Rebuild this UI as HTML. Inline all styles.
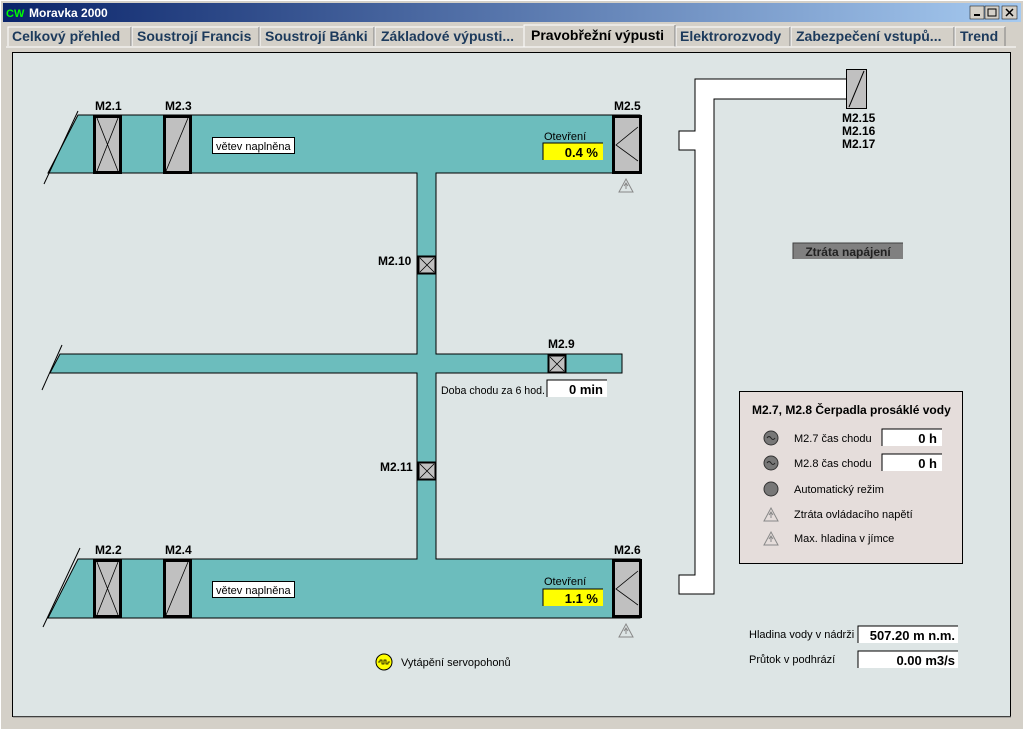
<!DOCTYPE html>
<html><head><meta charset="utf-8"><style>
html,body{margin:0;padding:0;background:#d4d0c8;}
svg{display:block;font-family:"Liberation Sans",sans-serif;}
.b{font-weight:bold;font-size:12px;fill:#000;}
.t{font-size:11px;fill:#000;}
.tab{font-weight:bold;font-size:14px;fill:#1c3a5c;}
</style></head><body>
<svg width="1024" height="730" viewBox="0 0 1024 730" xmlns="http://www.w3.org/2000/svg">
<defs>
<linearGradient id="tg" x1="0" x2="1"><stop offset="0" stop-color="#0a246a"/><stop offset="1" stop-color="#a6caf0"/></linearGradient>
<g id="warn"><path d="M0,-7 L7,6 L-7,6 Z" fill="none" stroke="#888" stroke-width="1"/><line x1="0" y1="-2" x2="0" y2="3" stroke="#888"/><path d="M-2,0 L0,-3 L2,0" fill="none" stroke="#888"/></g>
<g id="pump"><circle r="7" fill="#777" stroke="#333"/><path d="M-4,0 q2,-3 4,0 t4,0" fill="none" stroke="#222"/></g>
</defs>
<rect x="0" y="0" width="1024" height="730" fill="#d4d0c8"/>
<rect x="0.5" y="0.5" width="1023" height="729" fill="none" stroke="#fff"/>
<rect x="3" y="3" width="1018" height="19" fill="url(#tg)"/>
<text x="6" y="17" font-size="11" font-weight="bold" fill="#0f0">CW</text>
<text x="29" y="17" font-size="12" font-weight="bold" fill="#fff">Moravka 2000</text>
<g fill="#d4d0c8" stroke="#000" stroke-width="0.5">
<rect x="970" y="6" width="14" height="13"/><rect x="985" y="6" width="14" height="13"/><rect x="1002" y="6" width="15" height="13"/></g>
<line x1="974" y1="15" x2="980" y2="15" stroke="#000" stroke-width="2"/>
<rect x="988" y="9" width="8" height="7" fill="none" stroke="#000"/>
<path d="M1006,9 L1013,16 M1013,9 L1006,16" stroke="#000" stroke-width="1.5"/>
<g fill="#d4d0c8" stroke="#fff">
<path d="M8,46 V27 H131"/><path d="M132,46 V27 H259"/><path d="M260,46 V27 H374"/><path d="M375,46 V27 H523"/><path d="M676,46 V27 H790"/><path d="M791,46 V27 H954"/><path d="M955,46 V27 H1005"/></g>
<g stroke="#808080"><line x1="131" y1="27" x2="131" y2="46"/><line x1="259" y1="27" x2="259" y2="46"/><line x1="374" y1="27" x2="374" y2="46"/><line x1="790" y1="27" x2="790" y2="46"/><line x1="954" y1="27" x2="954" y2="46"/><line x1="1005" y1="27" x2="1005" y2="46"/></g>
<path d="M524,47 V25 H675 V47" fill="#d4d0c8" stroke="#fff"/>
<line x1="675" y1="25" x2="675" y2="47" stroke="#808080"/>
<text class="tab" x="12" y="41">Celkový přehled</text>
<text class="tab" x="137" y="41">Soustrojí Francis</text>
<text class="tab" x="265" y="41">Soustrojí Bánki</text>
<text class="tab" x="381" y="41">Základové výpusti...</text>
<text class="tab" x="531" y="40" style="fill:#000">Pravobřežní výpusti</text>
<text class="tab" x="680" y="41">Elektrorozvody</text>
<text class="tab" x="796" y="41">Zabezpečení vstupů...</text>
<text class="tab" x="960" y="41">Trend</text>
<line x1="6" y1="47" x2="1016" y2="47" stroke="#fff"/>
<rect x="12.5" y="52.5" width="998" height="664" fill="#dde5e5" stroke="#000"/>
<line x1="13" y1="717" x2="1011" y2="717" stroke="#808080"/>
<g fill="#6cbdbd" stroke="#000" stroke-width="1">
<path d="M78,115 H640 V173 H436 V354 H622 V373 H436 V559 H640 V618 H48 L78,559 H417 V373 H50 L60,354 H417 V173 H48 Z"/>
</g>
<line x1="78" y1="111" x2="44" y2="184" stroke="#000"/>
<line x1="62" y1="345" x2="42" y2="390" stroke="#000"/>
<line x1="80" y1="548" x2="43" y2="627" stroke="#000"/>
<g fill="#c0c0c0" stroke="#000" stroke-width="3">
<rect x="94.5" y="116.5" width="26" height="56"/><rect x="164.5" y="116.5" width="26" height="56"/><rect x="613.5" y="116.5" width="27" height="56"/>
<rect x="94.5" y="560.5" width="26" height="56"/><rect x="164.5" y="560.5" width="26" height="56"/><rect x="613.5" y="560.5" width="27" height="56"/>
<rect x="418.5" y="256.5" width="17" height="17" stroke-width="2"/><rect x="548.5" y="355.5" width="17" height="17" stroke-width="2"/><rect x="418.5" y="462.5" width="17" height="17" stroke-width="2"/>
</g>
<g stroke="#000" stroke-width="0.8" fill="none">
<path d="M97,118 L118,171 M118,118 L97,171"/><path d="M188,118 L166,171"/><path d="M638,127 L616,145 L638,161"/>
<path d="M97,562 L118,615 M118,562 L97,615"/><path d="M188,562 L166,615"/><path d="M638,571 L616,589 L638,605"/>
<path d="M420,258 L434,272 M434,258 L420,272"/><path d="M550,357 L564,371 M564,357 L550,371"/><path d="M420,464 L434,478 M434,464 L420,478"/>
</g>
<text class="b" x="95" y="110">M2.1</text><text class="b" x="165" y="110">M2.3</text><text class="b" x="614" y="110">M2.5</text>
<text class="b" x="95" y="554">M2.2</text><text class="b" x="165" y="554">M2.4</text><text class="b" x="614" y="554">M2.6</text>
<text class="b" x="378" y="265">M2.10</text><text class="b" x="548" y="348">M2.9</text><text class="b" x="380" y="471">M2.11</text>
<rect x="212.5" y="137.5" width="82" height="16" fill="#fff" stroke="#000"/><text class="t" x="216" y="150">větev naplněna</text>
<rect x="212.5" y="581.5" width="82" height="16" fill="#fff" stroke="#000"/><text class="t" x="216" y="594">větev naplněna</text>
<text class="t" x="544" y="140">Otevření</text>
<rect x="543" y="143" width="60" height="17" fill="#ff0"/><path d="M543,160 V143 H603" stroke="#000" fill="none"/>
<text x="598" y="157" font-size="13" font-weight="bold" text-anchor="end">0.4 %</text>
<text class="t" x="544" y="585">Otevření</text>
<rect x="543" y="589" width="60" height="17" fill="#ff0"/><path d="M543,606 V589 H603" stroke="#000" fill="none"/>
<text x="598" y="603" font-size="13" font-weight="bold" text-anchor="end">1.1 %</text>
<use href="#warn" x="626" y="186"/><use href="#warn" x="626" y="631"/>
<text class="t" x="441" y="394" textLength="104" lengthAdjust="spacingAndGlyphs">Doba chodu za 6 hod.</text>
<rect x="547" y="380" width="60" height="17" fill="#fff"/><path d="M547,397 V380 H607" stroke="#000" fill="none"/>
<text x="603" y="394" font-size="13" font-weight="bold" text-anchor="end">0 min</text>
<path d="M695,79 H847 V99 H714 V594 H679 V575 H695 V150 H679 V131 H695 Z" fill="#fff" stroke="#000"/>
<rect x="846.5" y="69.5" width="20" height="39" fill="#c0c0c0" stroke="#000"/>
<line x1="864" y1="71" x2="849" y2="107" stroke="#000"/>
<text class="b" x="842" y="122">M2.15</text><text class="b" x="842" y="135">M2.16</text><text class="b" x="842" y="148">M2.17</text>
<rect x="793" y="243" width="110" height="16" fill="#808080"/>
<path d="M793,259 V243 H903" stroke="#404040" fill="none"/>
<text x="848" y="256" font-size="12" font-weight="bold" fill="#222" text-anchor="middle">Ztráta napájení</text>
<rect x="739.5" y="391.5" width="223" height="172" fill="#e5dddb" stroke="#000"/>
<text class="b" x="752" y="414">M2.7, M2.8 Čerpadla prosáklé vody</text>
<use href="#pump" x="771" y="438"/><use href="#pump" x="771" y="463"/>
<circle cx="771" cy="489" r="7" fill="#777" stroke="#333"/>
<use href="#warn" x="771" y="515"/><use href="#warn" x="771" y="539"/>
<text class="t" x="794" y="442">M2.7 čas chodu</text>
<text class="t" x="794" y="467">M2.8 čas chodu</text>
<text class="t" x="794" y="493">Automatický režim</text>
<text class="t" x="794" y="518">Ztráta ovládacího napětí</text>
<text class="t" x="794" y="542">Max. hladina v jímce</text>
<rect x="882" y="429" width="60" height="17" fill="#fff"/><path d="M882,446 V429 H942" stroke="#000" fill="none"/>
<text x="937" y="443" font-size="13" font-weight="bold" text-anchor="end">0 h</text>
<rect x="882" y="454" width="60" height="17" fill="#fff"/><path d="M882,471 V454 H942" stroke="#000" fill="none"/>
<text x="937" y="468" font-size="13" font-weight="bold" text-anchor="end">0 h</text>
<text class="t" x="749" y="638">Hladina vody v nádrži</text>
<text class="t" x="749" y="663">Průtok v podhrází</text>
<rect x="858" y="626" width="100" height="17" fill="#fff"/><path d="M858,643 V626 H958" stroke="#000" fill="none"/>
<text x="955" y="640" font-size="13" font-weight="bold" text-anchor="end">507.20 m n.m.</text>
<rect x="858" y="651" width="100" height="17" fill="#fff"/><path d="M858,668 V651 H958" stroke="#000" fill="none"/>
<text x="955" y="665" font-size="13" font-weight="bold" text-anchor="end">0.00 m3/s</text>
<circle cx="384" cy="662" r="8" fill="#ff0" stroke="#000"/>
<path d="M378,662 h2 v-2 h2 v4 h2 v-4 h2 v4 h2 v-2 h2" fill="none" stroke="#000" stroke-width="0.8"/>
<text class="t" x="401" y="666">Vytápění servopohonů</text>
</svg>
</body></html>
